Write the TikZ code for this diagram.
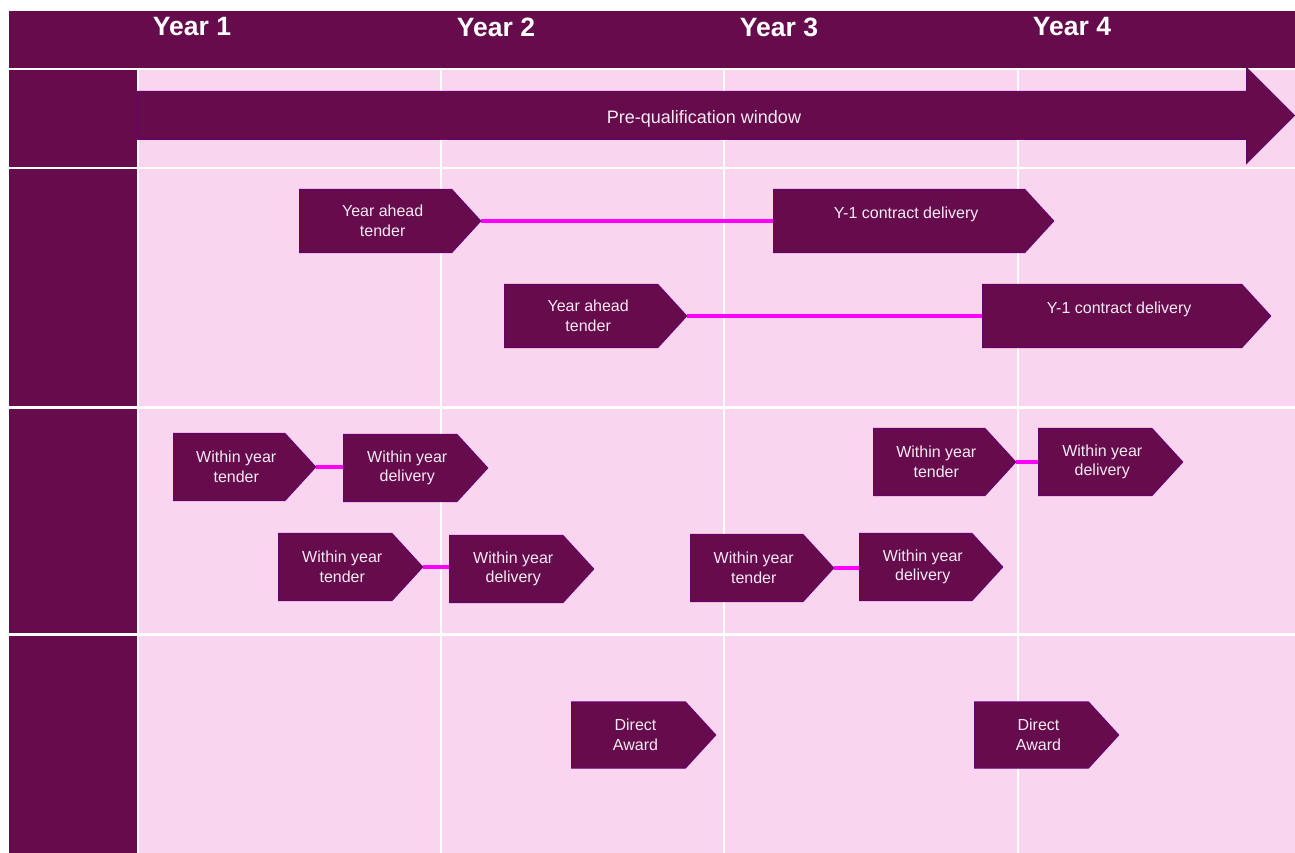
\documentclass[tikz,border=0pt]{standalone}
\usepackage{fontspec}
\setmainfont{Liberation Sans}
\usetikzlibrary{shapes.symbols,shapes.arrows}
\definecolor{plum}{RGB}{102,12,77}
\definecolor{plumedge}{RGB}{106,0,106}
\definecolor{blush}{RGB}{249,213,239}
\definecolor{hotpink}{RGB}{255,0,255}
\definecolor{pale}{RGB}{246,234,243}
\newcommand{\nudge}{\hspace*{14pt}}
\tikzset{
yearlabel/.style={text=white, font=\fontsize{26.5}{31}\selectfont\bfseries},
tagbox/.style={signal, signal to=east, signal pointer angle=95, fill=plum, draw=plumedge, line width=1.2pt, text=pale, font=\fontsize{16}{19.5}\selectfont, align=center, inner sep=0pt, anchor=west, minimum height=67pt},
window/.style={single arrow, single arrow head extend=24pt, single arrow tip angle=90, single arrow head indent=0pt, minimum height=1157pt, text height=17pt, text depth=0pt, inner xsep=0pt, inner ysep=15pt, fill=plum, draw=plumedge, line width=1pt, text=pale, font=\fontsize{18}{22}\selectfont, anchor=tail},
link/.style={draw=hotpink, line width=3.5pt},
}

\begin{document}
\begin{tikzpicture}
[x=1pt, y=-1pt]

\fill[white] (0,0) rectangle (1295,853);
\useasboundingbox (0,0) rectangle (1295,853);

% grid
\fill[plum] (9,11) rectangle (1295,68);
\foreach \ya/\yb in {70/167,169/406,409/633,636/853}{
  \fill[plum] (9,\ya) rectangle (137,\yb);
  \fill[blush] (139,\ya) rectangle (1295,\yb);
}
\foreach \xv in {441,724,1018}
  \draw[white, line width=2pt] (\xv,70) -- (\xv,853);

\node[yearlabel] (y1) at (192,27) {Year 1};
\node[yearlabel] (y2) at (496,27) {Year 2};
\node[yearlabel] (y3) at (779,27) {Year 3};
\node[yearlabel] (y4) at (1072,27) {Year 4};

\node[window] (prequal) at (137,115.5) {Pre-qualification window};

% year ahead
\node[tagbox, minimum width=181pt, minimum height=63pt] (yat1) at (299,221) {\nudge Year ahead\\\nudge tender};
\node[tagbox, minimum width=280pt, minimum height=63pt] (ycd1) at (773,221) {\nudge Y-1 contract delivery\\[-3pt]~};
\node[tagbox, minimum width=182pt, minimum height=63pt] (yat2) at (504,316) {\nudge Year ahead\\\nudge tender};
\node[tagbox, minimum width=288pt, minimum height=63pt] (ycd2) at (982,316) {\nudge Y-1 contract delivery\\[-3pt]~};
\draw[link] (yat1.east) -- (ycd1.west);
\draw[link] (yat2.east) -- (ycd2.west);

% within year
\node[tagbox, minimum width=142pt] (wyt1) at (173,467) {\nudge Within year\\\nudge tender};
\node[tagbox, minimum width=144pt] (wyd1) at (343,468) {\nudge Within year\\\nudge delivery};
\node[tagbox, minimum width=144pt] (wyt2) at (278,567) {\nudge Within year\\\nudge tender};
\node[tagbox, minimum width=144pt] (wyd2) at (449,569) {\nudge Within year\\\nudge delivery};
\node[tagbox, minimum width=142pt] (wyt3) at (873,462) {\nudge Within year\\\nudge tender};
\node[tagbox, minimum width=144pt] (wyd3) at (1038,462) {\nudge Within year\\\nudge delivery};
\node[tagbox, minimum width=143pt] (wyt4) at (690,568) {\nudge Within year\\\nudge tender};
\node[tagbox, minimum width=143pt] (wyd4) at (859,567) {\nudge Within year\\\nudge delivery};
\draw[link] (wyt1.east) -- (wyt1.east -| wyd1.west);
\draw[link] (wyt2.east) -- (wyt2.east -| wyd2.west);
\draw[link] (wyt3.east) -- (wyt3.east -| wyd3.west);
\draw[link] (wyt4.east) -- (wyt4.east -| wyd4.west);

% direct award
\node[tagbox, minimum width=144pt, minimum height=66pt] (da1) at (571,735) {\nudge Direct\\\nudge Award};
\node[tagbox, minimum width=144pt, minimum height=66pt] (da2) at (974,735) {\nudge Direct\\\nudge Award};

\end{tikzpicture}
\end{document}
